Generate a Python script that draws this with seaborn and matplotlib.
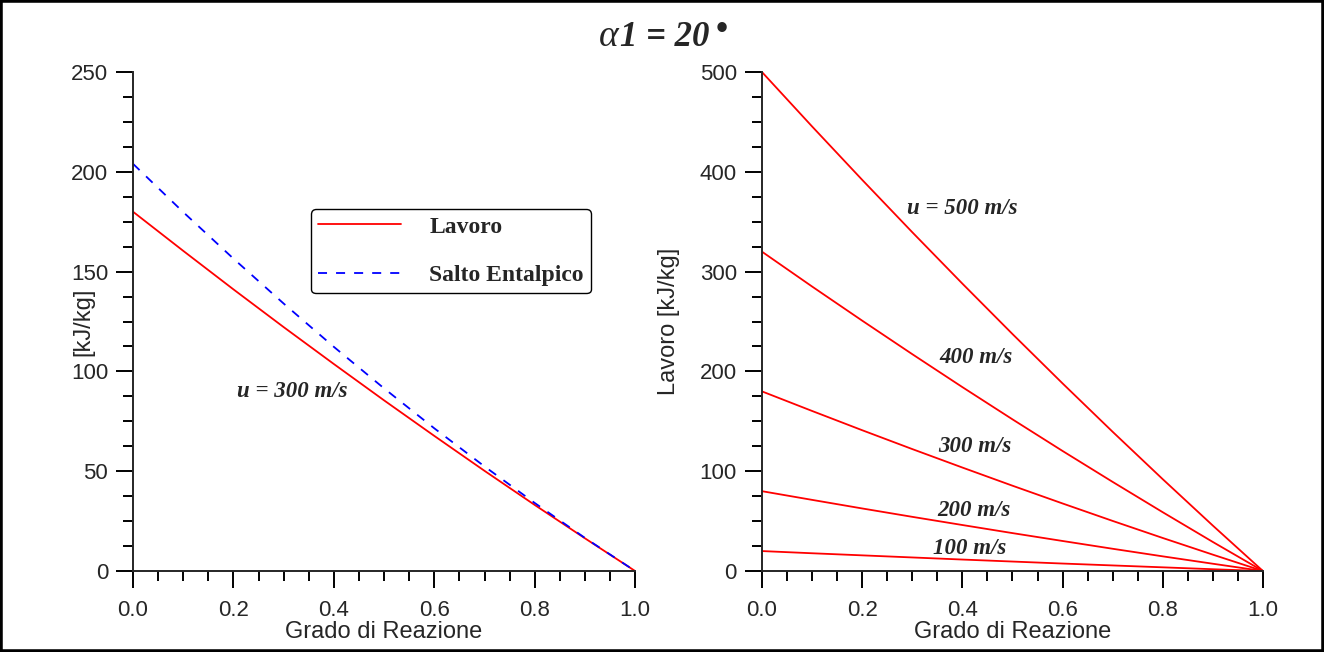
import numpy as np
import pandas as pd
import matplotlib
matplotlib.use("Agg")
import matplotlib.pyplot as plt
import seaborn as sns
from matplotlib.ticker import MultipleLocator, FormatStrFormatter
from matplotlib.patches import Rectangle

# ---------------- data ----------------
grado = [0.0, 0.1, 0.2, 0.3, 0.4, 0.5, 0.6, 0.7, 0.8, 0.9, 1.0]

# left panel, u = 300 m/s
lavoro_300 = [180.0, 160.4, 141.1, 122.2, 103.7, 85.5, 67.7, 50.2, 33.1, 16.4, 0.0]
salto_300 = [204.0, 179.8, 156.5, 134.0, 112.3, 91.5, 71.5, 52.4, 34.1, 16.6, 0.0]

# right panel, Lavoro for several peripheral speeds
lavoro_500 = [500.0, 445.5, 392.0, 339.5, 288.0, 237.5, 188.0, 139.5, 92.0, 45.5, 0.0]
lavoro_400 = [320.0, 285.1, 250.9, 217.3, 184.3, 152.0, 120.3, 89.3, 58.9, 29.1, 0.0]
lavoro_200 = [80.0, 71.3, 62.7, 54.3, 46.1, 38.0, 30.1, 22.3, 14.7, 7.3, 0.0]
lavoro_100 = [20.0, 17.8, 15.7, 13.6, 11.5, 9.5, 7.5, 5.6, 3.7, 1.8, 0.0]

speeds = ["100", "200", "300", "400", "500"]
speed_labels = ["100 m/s", "200 m/s", "300 m/s", "400 m/s", "u = 500 m/s"]
label_pos_grado = [0.415, 0.423, 0.425, 0.427, 0.399]
label_pos_lavoro = [23, 61, 125, 214, 363]

x_ticks = [0.0, 0.2, 0.4, 0.6, 0.8, 1.0]
left_yticks = [0, 50, 100, 150, 200, 250]
right_yticks = [0, 100, 200, 300, 400, 500]

right_series = {"100": lavoro_100, "200": lavoro_200, "300": lavoro_300,
                "400": lavoro_400, "500": lavoro_500}
df_right = pd.concat(
    [pd.DataFrame({"grado": grado, "lavoro": right_series[s], "u": s}) for s in speeds],
    ignore_index=True)

# ---------------- style ----------------
sns.set_style("ticks")
plt.rcParams["font.family"] = ["Liberation Sans", "DejaVu Sans"]
plt.rcParams["axes.linewidth"] = 1.4

fig = plt.figure(figsize=(13.24, 6.52), dpi=100)
ax1 = fig.add_axes([0.1005, 0.1242, 0.3792, 0.7653])
ax2 = fig.add_axes([0.5755, 0.1242, 0.3784, 0.7653])

# left panel
sns.lineplot(x=grado, y=lavoro_300, ax=ax1, color="red", lw=1.3,
             estimator=None, label="Lavoro")
sns.lineplot(x=grado, y=salto_300, ax=ax1, color="blue", lw=1.3,
             linestyle=(0, (5, 5)), estimator=None, label="Salto Entalpico")

# right panel
sns.lineplot(data=df_right, x="grado", y="lavoro", hue="u", hue_order=speeds,
             palette=["red"] * len(speeds), lw=1.3, estimator=None,
             legend=False, ax=ax2)

serif_bi = dict(family="Liberation Serif", weight="bold", style="italic", size=16.5)

for ax, yt, ymax in [(ax1, left_yticks, 250), (ax2, right_yticks, 500)]:
    ax.set_xlim(0, 1)
    ax.set_ylim(0, ymax)
    ax.spines[["top", "right"]].set_visible(False)
    ax.spines[["left", "bottom"]].set_linewidth(1.4)
    ax.set_xticks(x_ticks)
    ax.xaxis.set_major_formatter(FormatStrFormatter("%.1f"))
    ax.xaxis.set_minor_locator(MultipleLocator(0.05))
    ax.set_yticks(yt)
    ax.yaxis.set_minor_locator(MultipleLocator(ymax / 20))
    ax.tick_params(which="major", direction="out", length=12, width=1.4,
                   labelsize=16, color="black")
    ax.tick_params(which="minor", direction="out", length=7.5, width=1.4,
                   color="black")
    ax.tick_params(axis="x", which="major", pad=9)
    ax.tick_params(axis="y", which="major", pad=6)
    ax.set_xlabel("Grado di Reazione", fontsize=17)
    ax.xaxis.set_label_coords(0.5, -0.1)
    ax.grid(False)

ax1.set_ylabel("[kJ/kg]", fontsize=17)
ax1.yaxis.set_label_coords(-0.078, 0.5)
ax2.set_ylabel("Lavoro [kJ/kg]", fontsize=17)
ax2.yaxis.set_label_coords(-0.164, 0.5)

leg = ax1.legend(loc="upper left", bbox_to_anchor=(0.3546, 0.7255),
                 prop=dict(family="Liberation Serif", weight="bold", size=17),
                 handlelength=3.5, handletextpad=1.2, labelspacing=1.15,
                 borderpad=0.3, borderaxespad=0, frameon=True, fancybox=True,
                 framealpha=1)
leg.get_frame().set_edgecolor("black")
leg.get_frame().set_linewidth(1.0)

ax1.text(0.317, 89.7, "u = 300 m/s", ha="center", va="center", fontdict=serif_bi)
for lbl, gx, ly in zip(speed_labels, label_pos_grado, label_pos_lavoro):
    ax2.text(gx, ly, lbl, ha="center", va="center", fontdict=serif_bi)

# title alpha1 = 20 deg
fig.text(599 / 1324, 1 - 46 / 652, "α", ha="left", va="baseline",
         family="Liberation Serif", style="italic", size=27)
fig.text(620 / 1324, 1 - 46 / 652, "1 = 20", ha="left", va="baseline",
         family="Liberation Serif", style="italic", weight="bold", size=25)
fig.text(722 / 1324, 1 - 31 / 652, "•", ha="center", va="center",
         family="Liberation Serif", weight="bold", size=25)

fig.add_artist(Rectangle((0, 0), 1, 1, transform=fig.transFigure, fill=False,
                         edgecolor="black", linewidth=4))

fig.savefig("out.png", dpi=100)
